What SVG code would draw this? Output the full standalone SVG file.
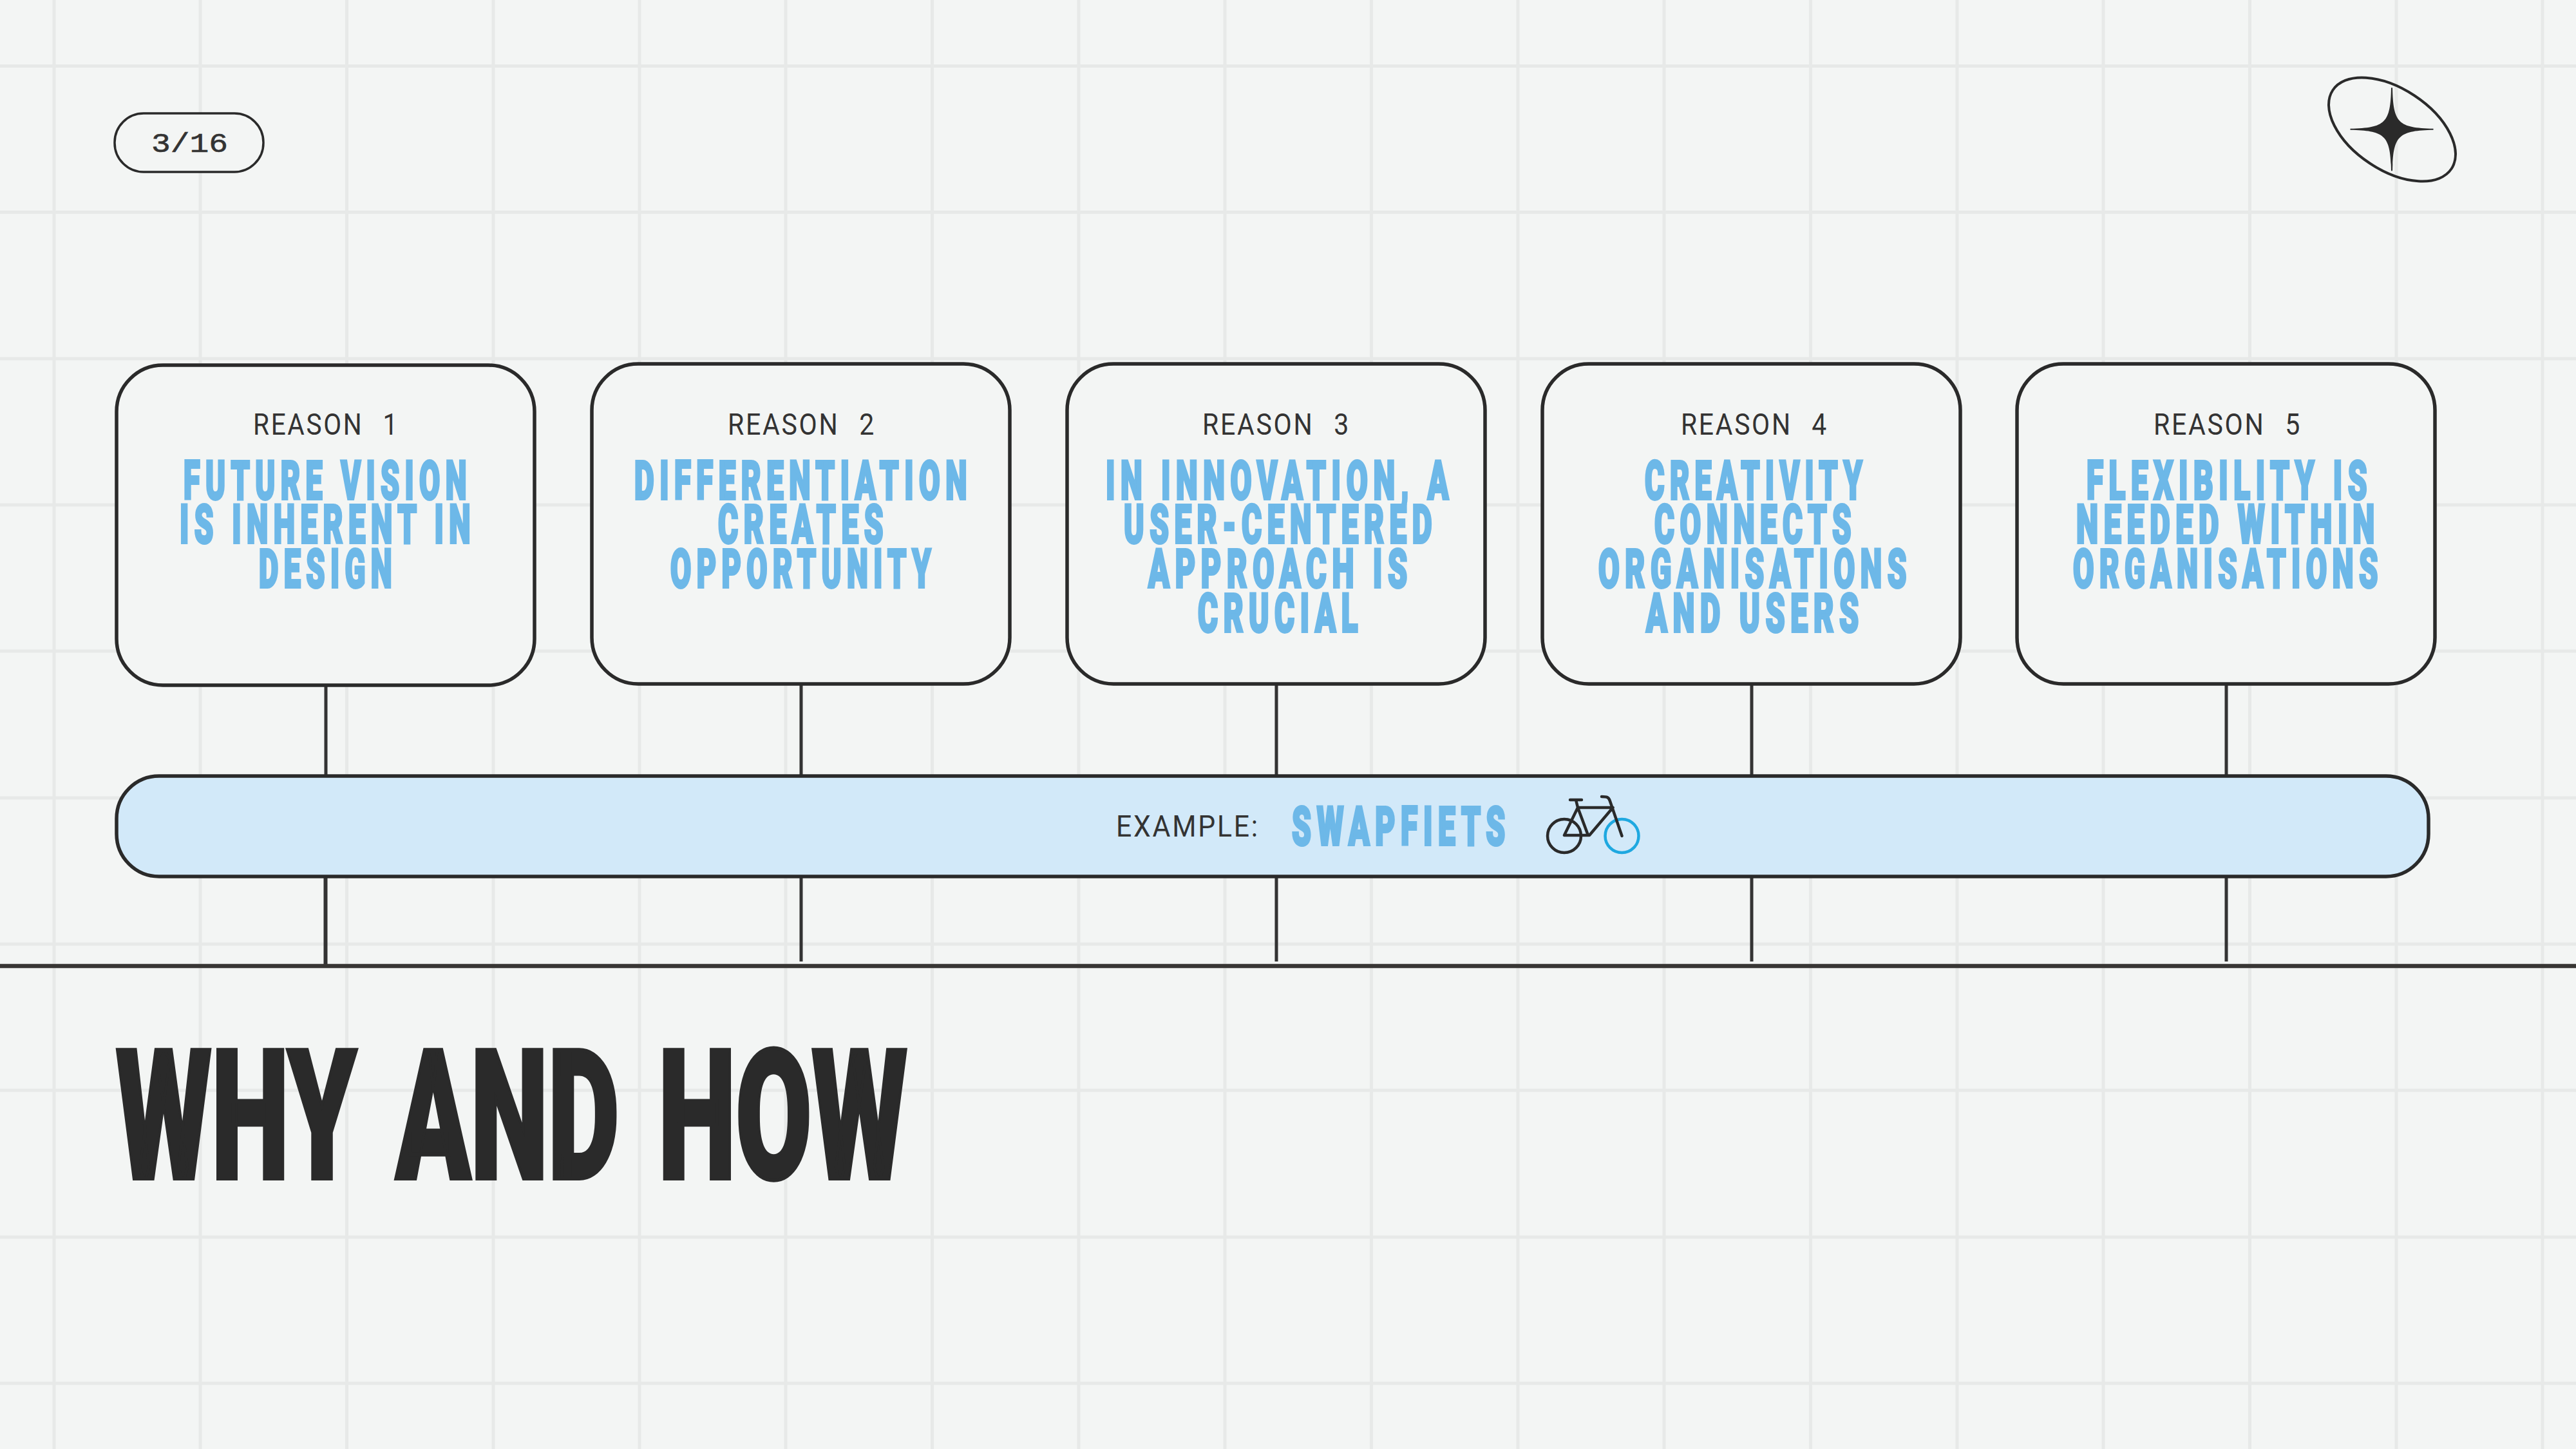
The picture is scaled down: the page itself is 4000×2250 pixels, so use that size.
<svg xmlns="http://www.w3.org/2000/svg" width="4000" height="2250" viewBox="0 0 4000 2250">
<style>
.g{stroke:#e7e9e8;stroke-width:5;fill:none}
.box{fill:#f3f5f4;stroke:#2a2a2a;stroke-width:5.500}
.c{stroke:#333;stroke-width:5;fill:none}
.h{font-family:"Roboto",sans-serif;font-weight:900;font-size:84px;fill:#6db8e8;stroke:#6db8e8;stroke-width:4;letter-spacing:15px}
.r{font-family:"Roboto","Liberation Sans",sans-serif;font-weight:400;font-size:46px;fill:#333;word-spacing:20px;letter-spacing:3px}
.bk{fill:none;stroke:#2a2a2a;stroke-width:4.500;stroke-linecap:round;stroke-linejoin:round}
</style>
<rect width="4000" height="2250" fill="#f3f5f4"/>
<g id="grid">
<path class="g" d="M84 0V2250M311 0V2250M538.500 0V2250M766 0V2250M993 0V2250M1220 0V2250M1447.500 0V2250M1675 0V2250M1902 0V2250M2129.500 0V2250M2357 0V2250M2584 0V2250M2811.500 0V2250M3039 0V2250M3266 0V2250M3493.500 0V2250M3721 0V2250M3948 0V2250"/>
<path class="g" d="M0 102.500H4000M0 329.500H4000M0 557H4000M0 784H4000M0 1011H4000M0 1239H4000M0 1466H4000M0 1693H4000M0 1921H4000M0 2148H4000"/>
</g>
<g id="connectors">
<path class="c" d="M506 1064V1205M1244 1062V1205M1982 1062V1205M2720 1062V1205M3457 1062V1205"/>
<path class="c" d="M1244 1361V1493M1982 1361V1493M2720 1361V1493M3457 1361V1493"/>
<path d="M505.500 1361V1500" stroke="#333" stroke-width="6" fill="none"/>
<path d="M0 1500H4000" stroke="#383634" stroke-width="6.500" fill="none"/>
</g>
<g id="page-badge">
<rect class="box" x="178" y="176" width="231" height="91" rx="45" style="stroke-width:3.500"/>
<text x="235" y="236" font-family="Liberation Mono,monospace" font-size="42" fill="#333" stroke="#333" stroke-width="0.600" textLength="119" lengthAdjust="spacingAndGlyphs">3/16</text>
</g>
<g id="star-logo">
<ellipse cx="3714.500" cy="201" rx="110.500" ry="63" transform="rotate(33.500 3714.500 201)" fill="none" stroke="#2a2a2a" stroke-width="4"/>
<path transform="translate(3714 200.700)" fill="#2a2a2a" d="M-1 -64.500H1C2 -10 10 -2 64.500 -1V1C10 2 2 10 1 64.500H-1C-2 10 -10 2 -64.500 1V-1C-10 -2 -2 -10 -1 -64.500Z"/>
</g>
<g id="reason-1">
<rect class="box" x="181" y="567" width="649" height="497" rx="72"/>
<text class="r" x="393" y="675" textLength="227" lengthAdjust="spacingAndGlyphs">REASON 1</text>
<text class="h" x="285" y="775" textLength="448" lengthAdjust="spacingAndGlyphs">FUTURE VISION</text>
<text class="h" x="279" y="843" textLength="460" lengthAdjust="spacingAndGlyphs">IS INHERENT IN</text>
<text class="h" x="402" y="912" textLength="215" lengthAdjust="spacingAndGlyphs">DESIGN</text>
</g>
<g id="reason-2">
<rect class="box" x="919" y="565" width="649" height="497" rx="72"/>
<text class="r" x="1130" y="675" textLength="230" lengthAdjust="spacingAndGlyphs">REASON 2</text>
<text class="h" x="985" y="775" textLength="525" lengthAdjust="spacingAndGlyphs">DIFFERENTIATION</text>
<text class="h" x="1115" y="843" textLength="265" lengthAdjust="spacingAndGlyphs">CREATES</text>
<text class="h" x="1041" y="912" textLength="413" lengthAdjust="spacingAndGlyphs">OPPORTUNITY</text>
</g>
<g id="reason-3">
<rect class="box" x="1657" y="565" width="649" height="497" rx="72"/>
<text class="r" x="1867" y="675" textLength="230" lengthAdjust="spacingAndGlyphs">REASON 3</text>
<text class="h" x="1717" y="775" textLength="541" lengthAdjust="spacingAndGlyphs">IN INNOVATION, A</text>
<text class="h" x="1745" y="843" textLength="487" lengthAdjust="spacingAndGlyphs">USER-CENTERED</text>
<text class="h" x="1783" y="912" textLength="411" lengthAdjust="spacingAndGlyphs">APPROACH IS</text>
<text class="h" x="1860" y="981" textLength="257" lengthAdjust="spacingAndGlyphs">CRUCIAL</text>
</g>
<g id="reason-4">
<rect class="box" x="2395" y="565" width="649" height="497" rx="72"/>
<text class="r" x="2610" y="675" textLength="229" lengthAdjust="spacingAndGlyphs">REASON 4</text>
<text class="h" x="2554" y="775" textLength="346" lengthAdjust="spacingAndGlyphs">CREATIVITY</text>
<text class="h" x="2569" y="843" textLength="314" lengthAdjust="spacingAndGlyphs">CONNECTS</text>
<text class="h" x="2482" y="912" textLength="487" lengthAdjust="spacingAndGlyphs">ORGANISATIONS</text>
<text class="h" x="2556" y="981" textLength="339" lengthAdjust="spacingAndGlyphs">AND USERS</text>
</g>
<g id="reason-5">
<rect class="box" x="3132" y="565" width="649" height="497" rx="72"/>
<text class="r" x="3344" y="675" textLength="230" lengthAdjust="spacingAndGlyphs">REASON 5</text>
<text class="h" x="3240" y="775" textLength="444" lengthAdjust="spacingAndGlyphs">FLEXIBILITY IS</text>
<text class="h" x="3224" y="843" textLength="472" lengthAdjust="spacingAndGlyphs">NEEDED WITHIN</text>
<text class="h" x="3219" y="912" textLength="482" lengthAdjust="spacingAndGlyphs">ORGANISATIONS</text>
</g>
<g id="example-band">
<rect class="box" x="181" y="1205" width="3590" height="156" rx="66" style="fill:#d2e9f9"/>
<text class="r" x="1733" y="1299" textLength="223" lengthAdjust="spacingAndGlyphs">EXAMPLE:</text>
<text class="h" x="2006" y="1312" textLength="340" lengthAdjust="spacingAndGlyphs">SWAPFIETS</text>
<g id="bicycle">
<circle cx="2518.500" cy="1298" r="26" fill="none" stroke="#1fa8e0" stroke-width="4.500"/>
<circle class="bk" cx="2429" cy="1298" r="26"/>
<path class="bk" d="M2438 1242H2456M2447 1242L2450 1254L2429 1297H2468L2504.500 1254M2450 1254H2504.500M2450 1254L2466 1297M2487 1237C2496 1237 2498 1238 2500 1244L2518.500 1298"/>
</g>
</g>
<g id="title">
<text x="180" y="1830" font-family="Roboto,sans-serif" font-weight="900" font-size="281" fill="#2a2a2a" stroke="#2a2a2a" stroke-width="6" word-spacing="30" textLength="1229" lengthAdjust="spacingAndGlyphs">WHY AND HOW</text>
</g>
</svg>
